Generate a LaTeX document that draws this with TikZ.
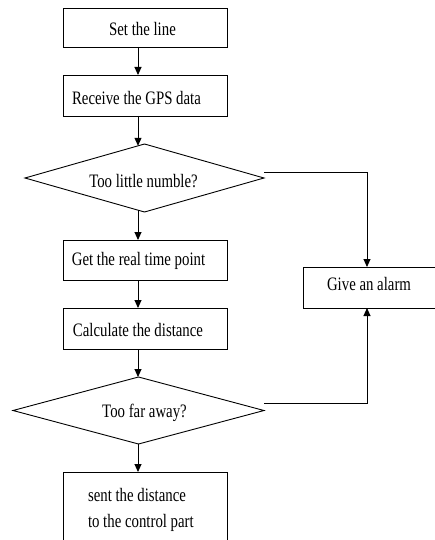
\documentclass[tikz,border=0pt]{standalone}
\usepackage{fontspec}
\usepackage{graphicx}
\setmainfont{Liberation Serif}
\usetikzlibrary{arrows.meta,shapes.geometric,calc}
\newcommand{\lbl}[1]{\scalebox{0.78}[1]{\fontsize{19pt}{21pt}\selectfont #1}}
\begin{document}
\begin{tikzpicture}[x=1pt,y=-1pt,
  every node/.style={inner sep=0pt, outer sep=0pt},
  procbox/.style={draw, line width=0.9pt, rectangle, minimum width=164pt},
  decbox/.style={draw, line width=0.9pt, diamond},
  arr/.style={line width=0.9pt, -{Triangle[width=7pt,length=8pt]}},
  conn/.style={line width=0.9pt},
  txt/.style={font=\normalsize}]
\useasboundingbox (0,0) rectangle (435,540);
\clip (0,0) rectangle (435,540);
\coordinate (ax) at (138,0);
\coordinate (alx) at (367,0);
% boxes
\node[procbox, minimum height=39pt] (b1) at (145,27.5) {};
\node[procbox, minimum height=41pt] (b2) at (145,95.5) {};
\node[decbox, minimum width=239pt, minimum height=68pt] (d1) at (144.5,178) {};
\node[procbox, minimum height=40pt] (b3) at (145,260) {};
\node[procbox, minimum height=41pt] (b4) at (145,328.5) {};
\node[decbox, minimum width=251pt, minimum height=67pt] (d2) at (138.5,410.5) {};
\node[procbox, minimum height=80pt] (b5) at (145,512) {};
\node[procbox, minimum width=142pt, minimum height=41pt] (al) at (374,287.5) {};
% texts
\node (t1) at (142.5,29) {\lbl{Set the line}};
\node (t2) at (136.5,98) {\lbl{Receive the GPS data}};
\node (t3) at (143.5,181) {\lbl{Too little numble?}};
\node (t4) at (138.5,261) {\lbl{Get the real time point}};
\node (t5) at (138,330) {\lbl{Calculate the distance}};
\node (t6) at (144.5,413) {\lbl{Too far away?}};
\node (t7) at (369,284) {\lbl{Give an alarm}};
\node[anchor=west] (t8) at (88,495) {\lbl{sent the distance}};
\node[anchor=west] (t9) at (88,523) {\lbl{to the control part}};
% connectors
\draw[arr] (b1.south -| ax) -- (b2.north -| ax);
\draw[arr] (b2.south -| ax) -- ($(d1.north -| ax)+(0,1.8)$);
\draw[arr] ($(d1.south -| ax)+(0,-1.8)$) -- (b3.north -| ax);
\draw[arr] (b3.south -| ax) -- (b4.north -| ax);
\draw[arr] (b4.south -| ax) -- (d2.north -| ax);
\draw[arr] (d2.south -| ax) -- (b5.north -| ax);
\draw[arr] ($(d1.east)+(0,-6)$) -| (al.north -| alx);
\draw[arr] ($(d2.east)+(0,-7)$) -| (al.south -| alx);
\end{tikzpicture}
\end{document}
